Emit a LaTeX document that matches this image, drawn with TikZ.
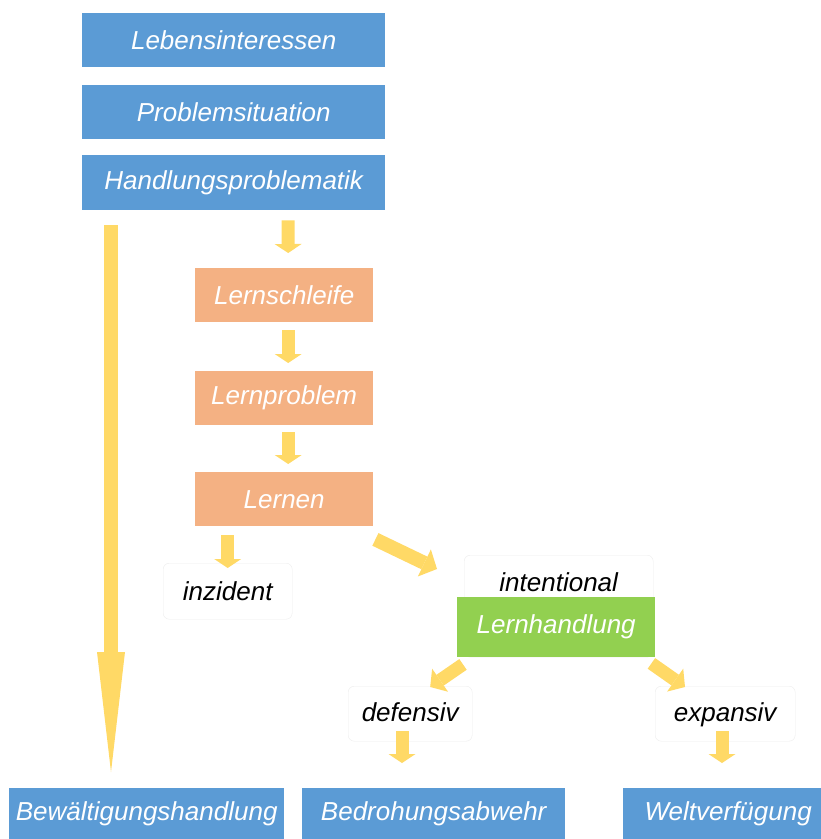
\documentclass[tikz,border=0pt]{standalone}
\usepackage{fontspec}
\setmainfont{Liberation Sans}
\usetikzlibrary{arrows.meta,calc}

\definecolor{boxblue}{RGB}{91,155,213}
\definecolor{boxorange}{RGB}{244,177,131}
\definecolor{boxgreen}{RGB}{146,208,80}
\definecolor{arrowyellow}{RGB}{255,217,102}

\tikzset{
  box/.style={inner sep=0pt, anchor=north west, font=\fontsize{26}{30}\selectfont\itshape},
  bluebox/.style={box, fill=boxblue, text=white, minimum height=54},
  orangebox/.style={box, fill=boxorange, text=white, minimum width=178, minimum height=54},
  greenbox/.style={box, fill=boxgreen, text=white},
  whitebox/.style={box, draw=black!7, fill=white, rounded corners=6pt, text=black},
  fat/.style={draw=arrowyellow, line width=13pt,
    -{Triangle[width=27pt,length=9pt,line width=0pt]}},
  bigfat/.style={draw=arrowyellow, line width=14pt,
    -{Triangle[width=28pt,length=120pt,line width=0pt]}},
}

\begin{document}
\begin{tikzpicture}[x=1pt,y=-1pt]
\useasboundingbox (0,0) rectangle (821,839);

% upper chain
\node[bluebox, minimum width=303] (li) at (82,13) {Lebensinteressen};
\node[bluebox, minimum width=303] (ps) at (82,85) {Problemsituation};
\node[bluebox, minimum width=303, minimum height=55] (hp) at (82,155) {Handlungsproblematik};

\node[orangebox] (ls) at (195,268) {Lernschleife};
\node[orangebox] (lp) at (195,371) {Lernproblem};
\node[orangebox] (ln) at (195,472) {Lernen};

% learning forms
\node[whitebox, minimum width=129, minimum height=56] (inz) at (163,563) {inzident};
\node[whitebox, minimum width=189, minimum height=102, text depth=48pt] (int) at (464,555) {intentional};
\node[greenbox, minimum width=198, minimum height=60] (lh) at (457,597) {Lernhandlung};
\node[whitebox, minimum width=124, minimum height=55, text depth=3pt] (def) at (348,686) {defensiv};
\node[whitebox, minimum width=140, minimum height=55, text depth=3pt] (exp) at (655,686) {expansiv};

% results
\node[bluebox, minimum width=275, minimum height=52] (bew) at (9,788) {Bewältigungshandlung};
\node[bluebox, minimum width=263, minimum height=52] (bed) at (302,788) {Bedrohungsabwehr};
\node[bluebox, minimum width=210, minimum height=52] (wel) at (623,788) {Weltverfügung};

% arrows
\draw[bigfat] ($(hp.south west)+(29,15)$) -- ($(bew.north west)+(102,-16)$);
\draw[fat] ($(hp.south west)+(206,10)$) -- ($(ls.north)+(4,-15)$);
\draw[fat] ($(ls.south)+(4,8)$) -- ($(lp.north)+(4,-8)$);
\draw[fat] ($(lp.south)+(4,7)$) -- ($(ln.north)+(4,-8)$);
\draw[fat] ($(inz.north |- ln.south)+(0,9)$) -- ($(inz.north)+(0,5)$);
\draw[fat, line width=14pt, -{Triangle[width=30pt,length=14pt,line width=0pt]}]
  ($(ln.south east)+(2,13)$) -- ($(int.north west)+(-27,14)$);
\draw[fat, -{Triangle[width=28pt,length=12pt,line width=0pt]}]
  ($(lh.south west)+(6,7)$) -- ($(def.north)+(20,1)$);
\draw[fat, -{Triangle[width=28pt,length=12pt,line width=0pt]}]
  ($(lh.south east)+(-4,6)$) -- ($(exp.north west)+(30,1)$);
\draw[fat] ($(def.south west)+(54,-10)$) -- ($(bed.north west)+(100,-25)$);
\draw[fat] ($(exp.south west)+(67,-10)$) -- ($(wel.north west)+(99,-25)$);
\end{tikzpicture}
\end{document}
